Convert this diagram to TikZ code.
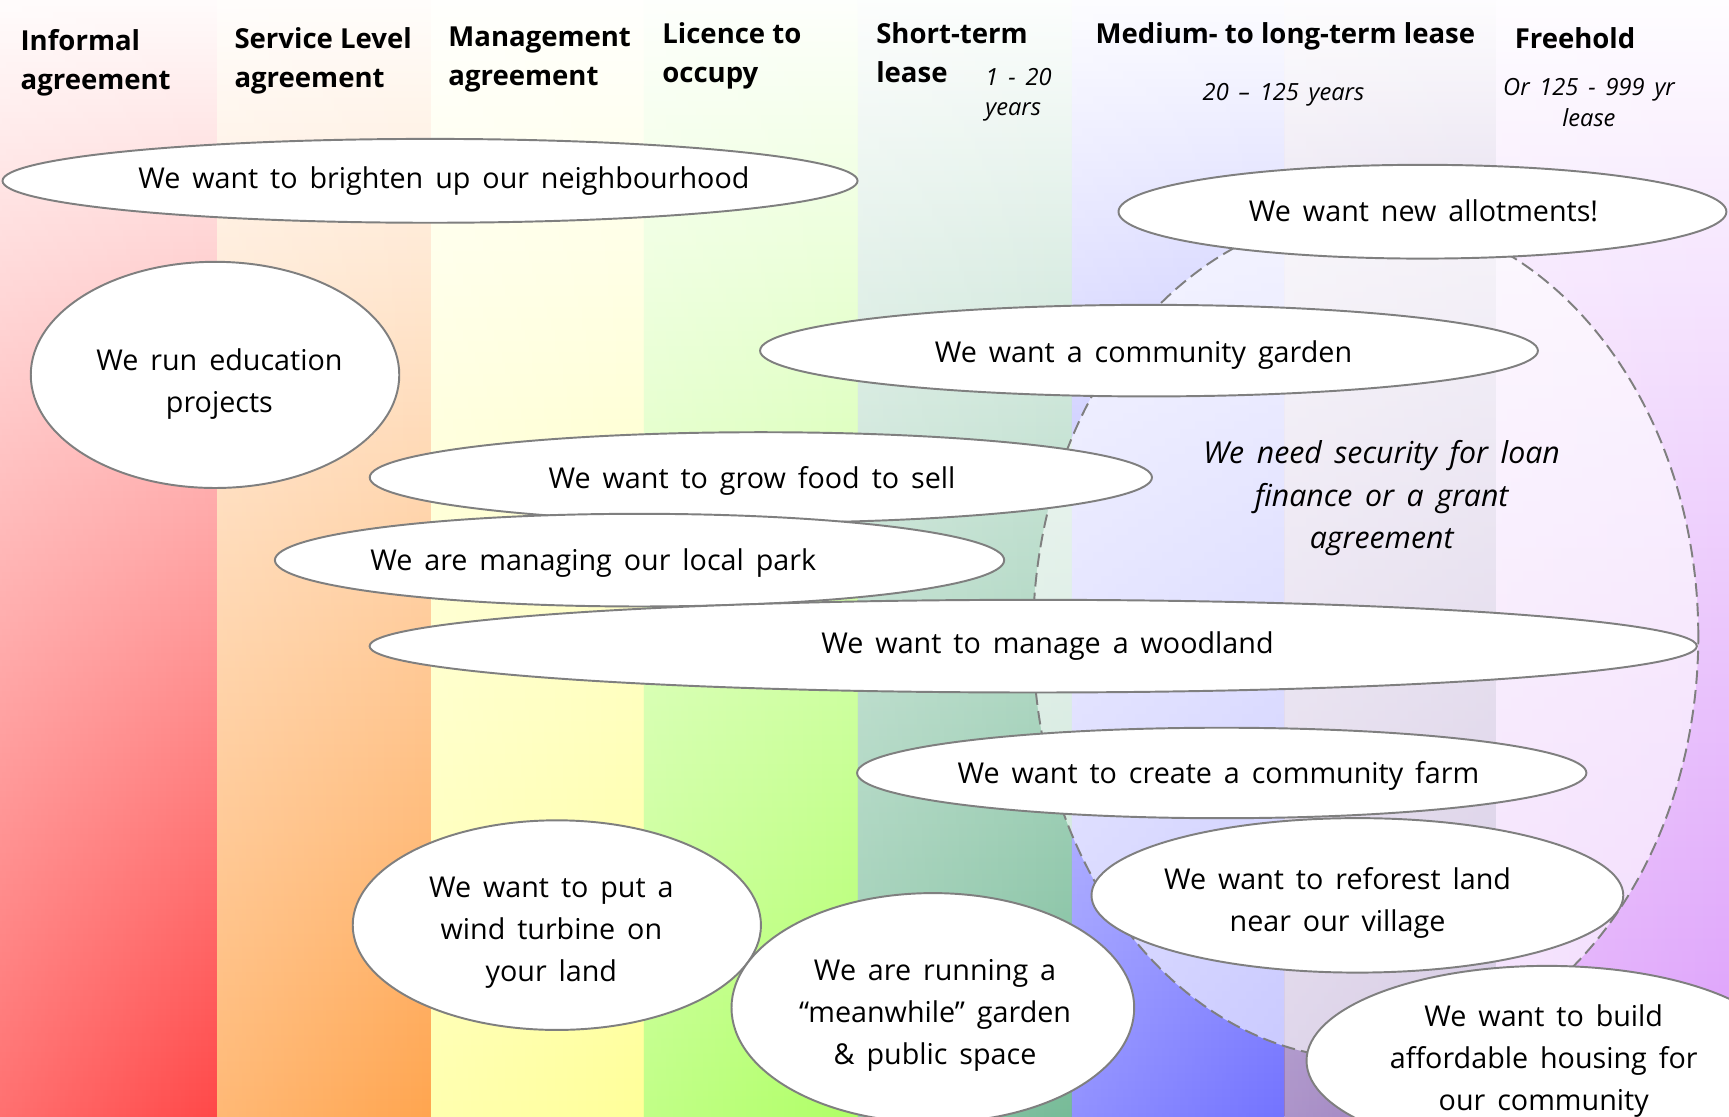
\documentclass[tikz,border=0pt]{standalone}
\usepackage{fontspec}
\setmainfont{Open Sans}[WordSpace=1.6]
\newfontfamily\headfont{Open Sans}
\usetikzlibrary{shapes.geometric,fadings}
\definecolor{cRed}{HTML}{FF4848}
\definecolor{cOrange}{HTML}{FFA54F}
\definecolor{cYellow}{HTML}{FFFF99}
\definecolor{cLime}{HTML}{B0FF66}
\definecolor{cTeal}{HTML}{77BB98}
\definecolor{cBlue}{HTML}{7373FF}
\definecolor{cMauve}{HTML}{9677BB}
\definecolor{cViolet}{HTML}{DC9CFA}
\definecolor{edge}{HTML}{7F7F7F}
\tikzfading[name=leftlight, left color=transparent!0, right color=transparent!100]
\begin{document}
\begin{tikzpicture}[x=0.01cm,y=-0.01cm,
  bubble/.style={ellipse, draw=edge, fill=white, line width=0.5pt, inner sep=0pt},
  zone/.style={ellipse, draw=edge, dash pattern=on 3.5pt off 1.6pt, line width=0.5pt, fill=white, fill opacity=0.6, inner sep=0pt},
  txt/.style={align=center, inner sep=0pt, font=\fontsize{7.4}{10.8}\selectfont},
  head/.style={align=left, anchor=west, inner sep=0pt, font=\headfont\fontsize{7.1}{10}\selectfont\bfseries},
  sub/.style={align=center, inner sep=0pt, font=\fontsize{6.1}{7.9}\selectfont\itshape},
  zonetxt/.style={align=center, inner sep=0pt, font=\fontsize{7.8}{10.95}\selectfont\itshape}]
\useasboundingbox (0,0) rectangle (1568,1013);
\clip (0,0) rectangle (1568,1013);
% columns
\foreach \xa/\xb/\c in {0/197/cRed, 197/391/cOrange, 391/584/cYellow, 584/778/cLime, 778/972/cTeal, 972/1165/cBlue, 1165/1357/cMauve, 1357/1568/cViolet}{
  \shade[top color=\c!2!white, bottom color=\c] (\xa,0) rectangle (\xb,1013);
  \fill[white, path fading=leftlight, fill opacity=0.22] (\xa,0) rectangle (\xb,1013);
}
% headers
\node[head] (h1) at (18,57) {Informal\\agreement};
\node[head] (h2) at (212,55) {Service Level\\agreement};
\node[head] (h3) at (406,54) {Management\\agreement};
\node[head] (h4) at (600,51) {Licence to\\occupy};
\node[head] (h5) at (794,48) {Short-term\\lease};
\node[sub, align=left, anchor=west] (s5) at (893,86) {1 - 20\\years};
\node[head] (h6) at (993,33) {Medium- to long-term lease};
\node[sub] (s6) at (1164,86) {20 – 125 years};
\node[head] (h7) at (1373,35) {Freehold};
\node[sub] (s7) at (1441,93) {Or 125 - 999 yr\\lease};
% zone
\node[zone, minimum width=6.03cm, minimum height=7.66cm] (zone) at (1238.5,577) {};
\node[zonetxt] (zonet) at (1253,452) {We need security for loan\\finance or a grant\\agreement};
% bubbles
\node[bubble, minimum width=7.75cm, minimum height=0.76cm] (b1) at (390,164) {};
\node[txt] (t1) at (402.5,164) {We want to brighten up our neighbourhood};
\node[bubble, minimum width=3.34cm, minimum height=2.05cm] (b2) at (195,340) {};
\node[txt] (t2) at (199,348) {We run education\\projects};
\node[bubble, minimum width=5.51cm, minimum height=0.85cm] (b3) at (1290,192) {};
\node[txt] (t3) at (1291,191) {We want new allotments!};
\node[bubble, minimum width=7.05cm, minimum height=0.83cm] (b4) at (1042,318) {};
\node[txt] (t4) at (1037,322) {We want a community garden};
\node[bubble, minimum width=7.09cm, minimum height=0.82cm] (b5) at (690,433) {};
\node[txt] (t5) at (682,436) {We want to grow food to sell};
\node[bubble, minimum width=6.61cm, minimum height=0.84cm] (b6) at (580,508) {};
\node[txt] (t6) at (538,511) {We are managing our local park};
\node[bubble, minimum width=12.03cm, minimum height=0.84cm] (b7) at (937,586) {};
\node[txt] (t7) at (950,586) {We want to manage a woodland};
\node[bubble, minimum width=4.82cm, minimum height=1.40cm] (b9) at (1231,812) {};
\node[txt] (t9) at (1213,819) {We want to reforest land\\near our village};
\node[bubble, minimum width=6.61cm, minimum height=0.82cm] (b8) at (1108,701) {};
\node[txt] (t8) at (1105,704) {We want to create a community farm};
\node[bubble, minimum width=3.70cm, minimum height=1.90cm] (b10) at (505,839) {};
\node[txt] (t10) at (500,846) {We want to put a\\wind turbine on\\your land};
\node[bubble, minimum width=3.65cm, minimum height=2.08cm] (b11) at (846,914) {};
\node[txt] (t11) at (848,921) {We are running a\\“meanwhile” garden\\\& public space};
\node[bubble, minimum width=4.36cm, minimum height=1.72cm] (b12) at (1403,962) {};
\node[txt] (t12) at (1400,962) {We want to build\\affordable housing for\\our community};
\end{tikzpicture}
\end{document}
